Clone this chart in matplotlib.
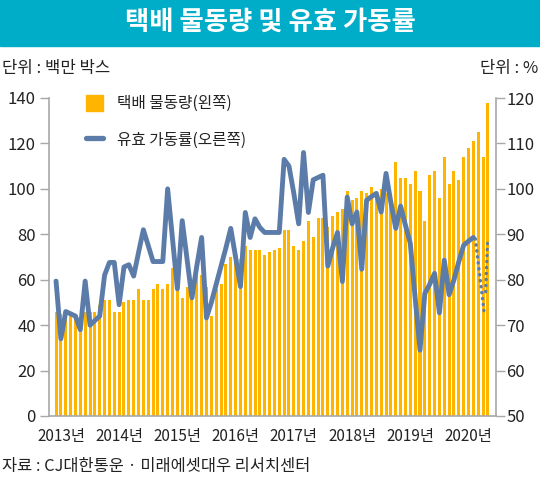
import matplotlib
matplotlib.use('Agg')
import matplotlib.pyplot as plt
import numpy as np
from matplotlib.patches import Rectangle
from matplotlib.lines import Line2D

plt.rcParams['font.family'] = ['Liberation Sans Narrow', 'Noto Sans CJK KR', 'DejaVu Sans']

# 월별 택배 물동량 (백만 박스), 2013.1 ~ 2020.6
volume = [46, 45, 46, 46, 43, 42, 46, 46, 46, 49, 51, 51,
          46, 46, 50, 51, 51, 56, 51, 51, 56, 58, 56, 58,
          65, 58, 52, 57, 58, 62, 62, 57, 44, 56, 58, 67,
          70, 73, 69, 75, 73, 73, 73, 71, 72, 73, 74, 82,
          82, 75, 73, 77, 86, 79, 87, 87, 83, 88, 90, 91,
          99, 95, 96, 99, 98, 101, 97, 100, 98, 93, 112, 105,
          105, 102, 108, 99, 86, 106, 108, 96, 114, 102, 108, 104,
          114, 118, 121, 125, 114, 138]

# 유효 가동률 (%)
util = [79.7, 67, 73, 72.5, 72, 69, 79.7, 70, 71, 72, 81, 83.8,
        83.8, 74.5, 82.8, 83.3, 80.8, 86, 91, 87.5, 84, 84, 84, 100,
        89, 78, 93, 84.5, 76, 83, 89.3, 71.6, 75, 79, 83, 87,
        91.3, 85, 78.5, 94.8, 89.3, 93.4, 91.5, 90.4, 90.4, 90.4, 90.4, 106.5,
        105, 99, 92.3, 108, 94.8, 102, 102.5, 103, 83, 87, 90.4, 79.6,
        98.2, 92.3, 94.9, 82.3, 97.5, 98.3, 99, 94.9, 103.4, 97, 91.3, 96.2,
        92, 88, 76, 64.5, 77, 79, 81.4, 72.7, 84.3, 76.7, 80, 84,
        87.6, 88.5, 89.3]

# 점선(추정) 구간
dot_a_x = [86.4, 88.2]
dot_a_y = [89, 73]
dot_b_x = [88.9, 88.5]
dot_b_y = [88, 76.5]

years = ['2013년', '2014년', '2015년', '2016년', '2017년', '2018년', '2019년', '2020년']
left_ticks = [0, 20, 40, 60, 80, 100, 120, 140]
right_ticks = [50, 60, 70, 80, 90, 100, 110, 120]

bar_color = '#FFB400'
line_color = '#5B7BA8'
grey = '#A8A8A8'
txt = '#222222'

fig = plt.figure(figsize=(5.4, 4.84), dpi=100)

# 제목 띠
fig.patches.append(Rectangle((0, 0.904), 1, 0.096, transform=fig.transFigure,
                             color='#00ADC9', zorder=0))
fig.text(0.5, 0.953, '택배 물동량 및 유효 가동률', ha='center', va='center',
         color='white', fontsize=19, fontweight='bold', family='Noto Sans CJK KR')

fig.text(0.004, 0.859, '단위 : 백만 박스', ha='left', va='center', fontsize=12, color=txt)
fig.text(0.996, 0.859, '단위 : %', ha='right', va='center', fontsize=12, color=txt)

ax = fig.add_axes([49 / 540, 1 - 416 / 484, 447 / 540, 318 / 484])
months = np.arange(len(volume))
ax.bar(months, volume, width=0.62, color=bar_color, zorder=2)
ax.set_xlim(-1.45, 90.66)
ax.set_ylim(0, 140)
ax.set_yticks(left_ticks)
ax.set_xticks([12 * k + 1 for k in range(len(years))])
ax.set_xticklabels(years)
ax.tick_params(axis='x', length=0, pad=9, labelsize=11, labelcolor=txt)
ax.tick_params(axis='y', length=6.5, width=1, color=grey, pad=3, labelsize=12, labelcolor=txt)
for s in ['top', 'right']:
    ax.spines[s].set_visible(False)
for s in ['left', 'bottom']:
    ax.spines[s].set_color(grey)
    ax.spines[s].set_linewidth(1.2)

ax2 = ax.twinx()
ax2.plot(np.arange(len(util)), util, color=line_color, lw=3.5,
         solid_joinstyle='round', solid_capstyle='round', zorder=3)
ax2.plot(dot_a_x, dot_a_y, color=line_color, lw=2.4, linestyle=(0, (0.1, 1.7)),
         dash_capstyle='round')
ax2.plot(dot_b_x, dot_b_y, color=line_color, lw=2.4, linestyle=(0, (0.1, 1.7)),
         dash_capstyle='round')
ax2.set_ylim(50, 120)
ax2.set_yticks(right_ticks)
ax2.tick_params(axis='y', length=6.5, width=1, color=grey, pad=1, labelsize=12, labelcolor=txt)
for s in ['top', 'left', 'bottom']:
    ax2.spines[s].set_visible(False)
ax2.spines['right'].set_color(grey)
ax2.spines['right'].set_linewidth(1.2)

# 범례
fig.patches.append(Rectangle((86 / 540, 1 - 111 / 484), 17 / 540, 16 / 484,
                             transform=fig.transFigure, color=bar_color, zorder=5))
fig.text(117 / 540, 1 - 103 / 484, '택배 물동량(왼쪽)', ha='left', va='center',
         fontsize=11.3, color=txt)
fig.lines.append(Line2D([86 / 540, 103 / 540], [1 - 138 / 484, 1 - 138 / 484],
                        transform=fig.transFigure, color=line_color, lw=3.8,
                        solid_capstyle='round'))
fig.text(117 / 540, 1 - 140 / 484, '유효 가동률(오른쪽)', ha='left', va='center',
         fontsize=11.3, color=txt)

fig.text(0.004, 1 - 467 / 484, '자료 : CJ대한통운 · 미래에셋대우 리서치센터', ha='left', va='center',
         fontsize=11.8, color=txt)

fig.savefig('out.png', dpi=100)
